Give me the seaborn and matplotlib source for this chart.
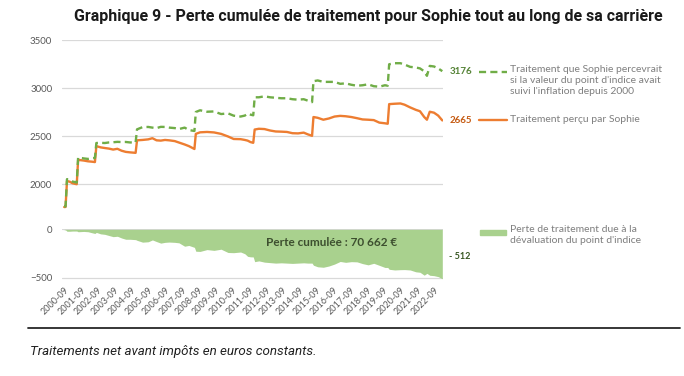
import pandas as pd
import matplotlib
matplotlib.use("Agg")
import matplotlib.pyplot as plt
import seaborn as sns
from matplotlib.lines import Line2D
from matplotlib.patches import Rectangle

# mois (points avant / après chaque revalorisation)
mois = ["2000-09", "2000-10", "2000-11", "2001-01", "2001-03", "2001-06", "2001-07",
        "2001-11", "2002-02", "2002-05", "2002-07", "2002-08", "2002-11", "2003-02",
        "2003-05", "2003-08", "2003-11", "2004-02", "2004-05", "2004-08", "2004-12",
        "2005-01", "2005-05", "2005-09", "2005-12", "2006-03", "2006-06", "2006-09",
        "2006-12", "2007-04", "2007-07", "2007-11", "2008-02", "2008-06", "2008-07",
        "2008-10", "2009-03", "2009-08", "2010-01", "2010-06", "2010-10", "2011-03",
        "2011-06", "2011-08", "2011-10", "2011-12", "2012-01", "2012-04", "2012-08",
        "2012-12", "2013-04", "2013-08", "2013-12", "2014-04", "2014-08", "2014-12",
        "2015-03", "2015-06", "2015-07", "2015-10", "2016-02", "2016-06", "2016-10",
        "2017-02", "2017-06", "2017-10", "2018-02", "2018-06", "2018-10", "2019-02",
        "2019-06", "2019-10", "2019-12", "2020-01", "2020-05", "2020-09", "2020-12",
        "2021-04", "2021-08", "2021-11", "2022-02", "2022-04", "2022-06", "2022-09",
        "2022-12", "2023-03"]

# traitement si le point d'indice avait suivi l'inflation
traitement_inflation = [1770, 1772, 2055, 2048, 2030, 2020, 2280, 2270, 2265, 2272, 2275,
                        2430, 2432, 2430, 2436, 2438, 2442, 2440, 2441, 2436, 2435,
                        2572, 2595, 2597, 2590, 2585, 2598, 2597, 2590, 2585, 2575, 2590,
                        2565, 2555, 2752, 2770, 2755, 2758, 2731, 2738, 2714, 2705, 2715,
                        2735, 2725, 2718, 2905, 2905, 2915, 2905, 2900, 2895, 2895, 2885,
                        2880, 2885, 2870, 2855, 3072, 3080, 3065, 3065, 3065, 3045, 3050,
                        3035, 3025, 3030, 3040, 3020, 3015, 3030, 3025, 3248, 3259, 3259,
                        3245, 3221, 3215, 3205, 3175, 3128, 3231, 3225, 3205, 3176.4]

# traitement effectivement perçu
traitement_percu = [1765, 1766, 2035, 2028, 2012, 2002, 2255, 2248, 2240, 2236, 2232,
                    2398, 2385, 2378, 2372, 2362, 2370, 2350, 2338, 2333, 2328,
                    2458, 2462, 2468, 2480, 2458, 2455, 2462, 2458, 2450, 2435, 2415,
                    2398, 2368, 2525, 2541, 2545, 2540, 2525, 2498, 2472, 2470, 2462,
                    2455, 2440, 2432, 2570, 2578, 2575, 2560, 2550, 2548, 2545, 2532,
                    2530, 2538, 2520, 2505, 2700, 2692, 2672, 2685, 2705, 2712, 2708,
                    2700, 2688, 2675, 2672, 2668, 2642, 2635, 2630, 2834, 2838, 2841,
                    2828, 2800, 2775, 2760, 2700, 2672, 2755, 2745, 2715, 2664.6]

ticks_mois = [f"{a}-09" for a in range(2000, 2023)]

df = pd.DataFrame({"date": pd.to_datetime(mois),
                   "inflation": traitement_inflation,
                   "percu": traitement_percu})
df["perte"] = df["percu"] - df["inflation"]

vert = "#70AD47"
orange = "#ED7D31"
vert_clair = "#A9D18E"
gris = "#595959"

sns.set_theme(style="white")
plt.rcParams["font.family"] = ["Lato", "DejaVu Sans"]

fig = plt.figure(figsize=(6.84, 3.76), dpi=100)
ax_top = fig.add_axes([0.0906, 0.4327, 0.5570, 0.4609])
ax_bot = fig.add_axes([0.0906, 0.2553, 0.5570, 0.1348])

xmin, xmax = pd.Timestamp("2000-07-15"), pd.Timestamp("2023-03-15")

sns.lineplot(data=df, x="date", y="percu", ax=ax_top, color=orange, linewidth=1.7)
sns.lineplot(data=df, x="date", y="inflation", ax=ax_top, color=vert, linewidth=1.7,
             linestyle=(0, (3, 1.8)))
ax_bot.fill_between(df["date"], df["perte"], 0, color=vert_clair, linewidth=0)

ax_top.set_ylim(1700, 3500)
ax_top.set_yticks([2000, 2500, 3000, 3500])
ax_bot.set_ylim(-525, 0)
ax_bot.set_yticks([-500, 0])
for ax in (ax_top, ax_bot):
    ax.set_xlim(xmin, xmax)
    ax.grid(axis="y", color="#D9D9D9", linewidth=0.9)
    ax.set_axisbelow(True)
    for s in ax.spines.values():
        s.set_visible(False)
    ax.set_xlabel("")
    ax.set_ylabel("")
    ax.tick_params(axis="y", length=0, pad=7, labelsize=7, labelcolor=gris)

ax_top.set_xticks([])
ax_bot.set_xticks(pd.to_datetime(ticks_mois))
ax_bot.set_xticklabels(ticks_mois, rotation=45, ha="right", rotation_mode="anchor")
ax_bot.tick_params(axis="x", length=0, pad=4, labelsize=6.5, labelcolor=gris)

# étiquettes de fin de série
fin = df.iloc[-1]
ax_top.annotate(f"{fin['inflation']:.0f}", (fin["date"], fin["inflation"]),
                xytext=(5, 0), textcoords="offset points", va="center",
                fontsize=7, fontweight="bold", color="#548235")
ax_top.annotate(f"{fin['percu']:.0f}", (fin["date"], fin["percu"]),
                xytext=(5, 0), textcoords="offset points", va="center",
                fontsize=7, fontweight="bold", color="#C55A11")
ax_bot.annotate(f"- {abs(fin['perte']):.0f}", (fin["date"], fin["perte"] / 2),
                xytext=(5, -2), textcoords="offset points", va="center",
                fontsize=6.5, fontweight="bold", color="#385723")
ax_bot.text(pd.Timestamp("2012-09-01"), -140, "Perte cumulée : 70 662 €",
            va="center", ha="left", fontsize=8.5, fontweight="bold", color="#3d4f2f")

# légende
fig.add_artist(Line2D([0.700, 0.741], [0.8085, 0.8085], color=vert, linewidth=1.7,
                      linestyle=(0, (3, 1.8))))
fig.text(0.7456, 0.8085 + 0.018, "Traitement que Sophie percevrait\n"
         "si la valeur du point d'indice avait\nsuivi l'inflation depuis 2000",
         va="top", ha="left", fontsize=7.5, color="#7f7f7f", linespacing=1.3)
fig.add_artist(Line2D([0.700, 0.741], [0.681, 0.681], color=orange, linewidth=1.7))
fig.text(0.7456, 0.681, "Traitement perçu par Sophie", va="center", ha="left",
         fontsize=7.5, color="#7f7f7f")
fig.add_artist(Rectangle((0.7017, 0.376), 0.038, 0.0133, color=vert_clair,
                         transform=fig.transFigure))
fig.text(0.7456, 0.383 + 0.018, "Perte de traitement due à la\n"
         "dévaluation du point d'indice", va="top", ha="left",
         fontsize=7.5, color="#7f7f7f", linespacing=1.3)

fig.suptitle("Graphique 9 - Perte cumulée de traitement pour Sophie tout au long de sa carrière",
             x=0.538, y=0.955, va="center", fontsize=11.5, fontweight="bold",
             family=["Roboto", "DejaVu Sans"], color="#1a1a1a")
fig.add_artist(Line2D([0.041, 0.994], [0.1277, 0.1277], color="#262626", linewidth=1.3))
fig.text(0.0439, 0.064, "Traitements net avant impôts en euros constants.",
         va="center", ha="left", fontsize=9.6, style="italic",
         family=["Roboto", "DejaVu Sans"], color="#222222")

fig.savefig("out.png", dpi=100)
